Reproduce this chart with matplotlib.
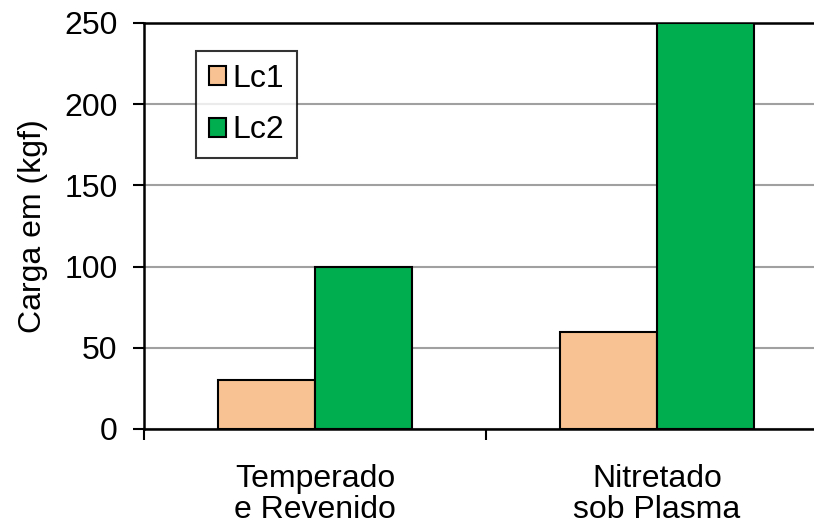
import matplotlib
matplotlib.use("Agg")
import matplotlib.pyplot as plt
import numpy as np

categories = ["Temperado\ne Revenido", "Nitretado\nsob Plasma"]
lc1 = [30, 60]
lc2 = [100, 250]
series_names = ["Lc1", "Lc2"]
yticks = [0, 50, 100, 150, 200, 250]

plt.rcParams['font.family'] = ['Liberation Sans', 'DejaVu Sans']
FS = 23

fig = plt.figure(figsize=(8.14, 5.26), dpi=100)
ax = fig.add_axes([144/814, 1-429/526, 684/814, 406/526])

x = np.arange(len(categories))
w = 0.284
ax.bar(x - w/2, lc1, width=w, color="#F9C292", edgecolor="black", linewidth=1.5, label=series_names[0], zorder=3)
ax.bar(x + w/2, lc2, width=w, color="#00AD4F", edgecolor="black", linewidth=1.5, label=series_names[1], zorder=3)

ax.set_xlim(-0.5, 1.5)
ax.set_ylim(0, 250)
ax.set_yticks(yticks)
ax.set_yticklabels([str(v) for v in yticks], fontsize=FS)
ax.yaxis.grid(True, color="#A0A0A0", linewidth=1.5, zorder=0)
ax.set_axisbelow(True)

ax.set_xticks(x)
ax.set_xticklabels(categories, fontsize=FS, linespacing=1.04)
ax.tick_params(axis='x', which='major', length=0, pad=25)
ax.set_xticks([-0.5, 0.5, 1.5], minor=True)
ax.tick_params(axis='x', which='minor', length=8, width=1.5, direction='out')
ax.tick_params(axis='y', length=8, width=1.5, direction='out', pad=11)

for s in ['left', 'bottom', 'top']:
    ax.spines[s].set_linewidth(1.8)
ax.spines['right'].set_visible(False)

ax.set_ylabel("Carga em (kgf)", fontsize=FS, labelpad=12)

leg = ax.legend(loc='upper left', bbox_to_anchor=(196/814, 1-51/526), bbox_transform=fig.transFigure,
                fontsize=FS, frameon=True, fancybox=False, edgecolor='black',
                handlelength=0.55, handleheight=0.55, handletextpad=0.2, labelspacing=0.68,
                borderpad=0.4, borderaxespad=0)
leg.get_frame().set_linewidth(1.5)

fig.savefig("out.png", dpi=100)
